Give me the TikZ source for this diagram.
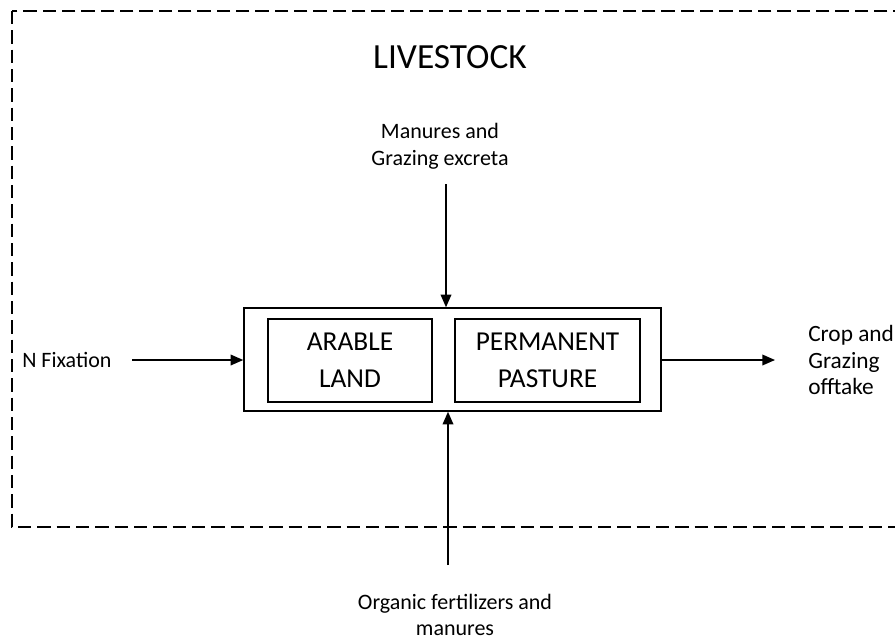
\documentclass[tikz,border=0pt]{standalone}
\usepackage{fontspec}
\setmainfont{Carlito}
\usetikzlibrary{arrows.meta}

\begin{document}
\begin{tikzpicture}[x=0.75pt,y=-0.75pt]
% estilos
\tikzset{
  land/.style={draw, line width=1.1pt, inner sep=0pt, align=center,
    minimum height=62.25pt, font=\fontsize{20.5}{27.75}\selectfont},
  lbl/.style={inner sep=0pt, font=\fontsize{16.5}{20}\selectfont},
  flow/.style={line width=1.1pt, -{Triangle[length=9.5pt,width=8pt]}}
}
\useasboundingbox (0,0) rectangle (895,640);
\clip (0,0) rectangle (895,640);

% limite del sistema
\draw[line width=1.5pt, dash pattern=on 10pt off 4.5pt] (12,11) rectangle (910,527);
\node[inner sep=0pt, font=\fontsize{26.5}{30}\selectfont] (livestock) at (450,57) {LIVESTOCK};

\node[draw, line width=1.1pt, minimum width=312.75pt, minimum height=77.25pt] (field) at (452.5,359.5) {};
\node[land, minimum width=123pt] (arable) at (350,360.5) {ARABLE\\LAND};
\node[land, minimum width=138.75pt] (pasture) at (547.5,360.5) {PERMANENT\\PASTURE};

\node[lbl, align=center] (manure) at (440,146) {Manures and\\Grazing excreta};
\node[lbl, anchor=west] (fix) at (22,360) {N Fixation};
\node[lbl, align=left, anchor=west, font=\fontsize{17.5}{20}\selectfont] (offtake) at (808,360) {Crop and\\Grazing\\offtake};
\node[lbl, align=center] (organic) at (455,615) {Organic fertilizers and\\manures};

\coordinate (topin) at (446,184);
\coordinate (botin) at (448,565);
\coordinate (leftin) at (132,360);
\coordinate (rightout) at (775,360);

\draw[flow] (topin) -- (topin |- field.north);
\draw[flow] (botin) -- (botin |- field.south);
\draw[flow] (leftin) -- (field.west |- leftin);
\draw[flow] (field.east |- rightout) -- (rightout);
\end{tikzpicture}
\end{document}
